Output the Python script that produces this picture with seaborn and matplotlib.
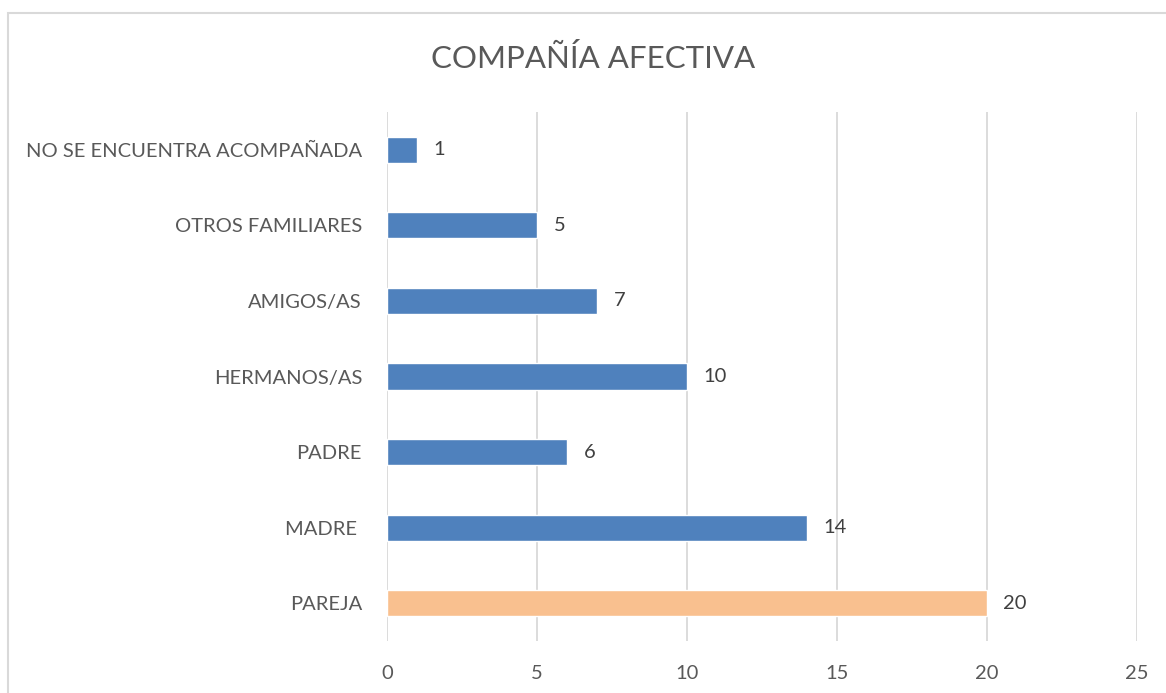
import matplotlib
matplotlib.use("Agg")
import matplotlib.pyplot as plt
import seaborn as sns
import pandas as pd
from matplotlib.patches import Rectangle

categories = ["NO SE ENCUENTRA ACOMPAÑADA", "OTROS FAMILIARES", "AMIGOS/AS",
              "HERMANOS/AS", "PADRE", "MADRE ", "PAREJA"]
values = [1, 5, 7, 10, 6, 14, 20]
bar_colors = ["#4F81BD", "#4F81BD", "#4F81BD", "#4F81BD", "#4F81BD", "#4F81BD", "#F9C08F"]
x_ticks = [0, 5, 10, 15, 20, 25]
title = "COMPAÑÍA AFECTIVA"

sns.set_theme(style="white")
plt.rcParams['font.family'] = ['Lato', 'DejaVu Sans']
text_color = "#595959"

df = pd.DataFrame({"cat": categories, "val": values})

fig = plt.figure(figsize=(11.66, 6.93), dpi=100)
ax = fig.add_axes([387/1166, 1 - 641/693, (1137-387)/1166, (641-112)/693])

sns.barplot(data=df, y="cat", x="val", hue="cat", palette=bar_colors,
            order=categories, hue_order=categories, legend=False,
            width=0.345, saturation=1, ax=ax, orient="h")

ax.set_xlim(0, 25)
ax.set_ylim(len(categories) - 0.5, -0.5)
ax.set_xticks(x_ticks)
ax.set_xticklabels([str(t) for t in x_ticks])
ax.xaxis.grid(True, color="#D9D9D9", linewidth=1.3)
ax.yaxis.grid(False)
ax.set_axisbelow(True)
for s in ax.spines.values():
    s.set_visible(False)
ax.set_xlabel("")
ax.set_ylabel("")
ax.tick_params(axis="both", length=0, colors=text_color, labelsize=14.5)
ax.tick_params(axis="x", pad=17)
ax.tick_params(axis="y", pad=18)

for i, v in enumerate(values):
    ax.text(v + 0.55, i, str(v), va="center", ha="left", fontsize=14.5, color="#404040")

fig.text(593/1166, 1 - 58/693, title, ha="center", va="center", fontsize=22.5, color=text_color)

border = Rectangle((7.5/1166, -0.1), 1.2, 1 - 13.5/693 + 0.1, transform=fig.transFigure,
                   fill=False, edgecolor="#D9D9D9", linewidth=1.5, clip_on=False)
fig.patches.append(border)

fig.savefig("out.png", dpi=100, facecolor="white")
